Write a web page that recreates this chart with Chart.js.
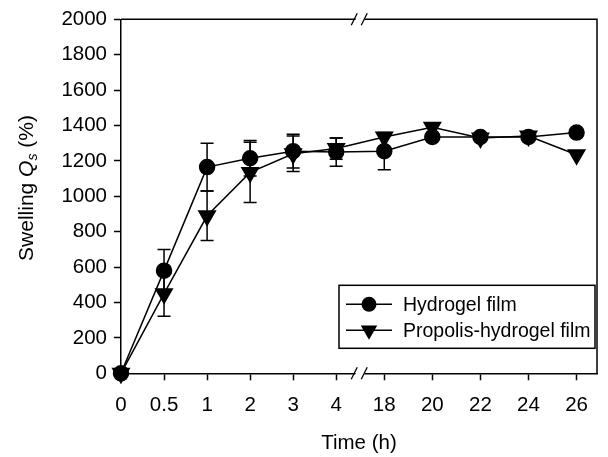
<!DOCTYPE html>
<html>
<head>
<meta charset="utf-8">
<script src="https://cdn.jsdelivr.net/npm/chart.js@4"></script>
<style>
  html, body { margin: 0; padding: 0; background: #fff; }
  #wrap { width: 608px; height: 457px; }
</style>
</head>
<body>
<div id="wrap"><canvas id="swellChart" width="608" height="457"></canvas></div>
<script>
/* ── Data ─────────────────────────────────── */
const timeLabels   = ['0', '0.5', '1', '2', '3', '4', '18', '20', '22', '24', '26'];
const hydrogel     = [0, 580, 1165, 1215, 1255, 1250, 1255, 1335, 1335, 1335, 1360];
const hydrogelErr  = [0, 120, 135, 100, 95, 80, 105, 0, 0, 0, 0];
const propolis     = [0, 450, 890, 1135, 1240, 1270, 1335, 1390, 1330, 1340, 1235];
const propolisErr  = [0, 127, 140, 170, 100, 60, 0, 0, 0, 0, 0];
const yTicks       = [0, 200, 400, 600, 800, 1000, 1200, 1400, 1600, 1800, 2000];

const FONT = "'Liberation Sans', Arial, sans-serif";
Chart.defaults.font.family = FONT;
Chart.defaults.font.size = 20.5;
Chart.defaults.color = '#000';

// broken axis: slots after the break are a little wider
const BREAK_AFTER = 5, WIDE = 1.117;
function slotX(i) { return i <= BREAK_AFTER ? i : BREAK_AFTER + (i - BREAK_AFTER) * WIDE; }

/* ── Plugins ──────────────────────────────── */
const errorBars = {
  id: 'errorBars',
  beforeDatasetsDraw(chart) {
    const { ctx, scales: { y } } = chart;
    ctx.save();
    ctx.strokeStyle = '#000';
    ctx.lineWidth = 1.5;
    chart.data.datasets.forEach((ds, i) => {
      chart.getDatasetMeta(i).data.forEach((pt, j) => {
        const e = ds.err[j];
        if (!e) return;
        const top = y.getPixelForValue(ds.data[j].y + e);
        const bot = y.getPixelForValue(ds.data[j].y - e);
        ctx.beginPath();
        ctx.moveTo(pt.x, top); ctx.lineTo(pt.x, bot);
        ctx.moveTo(pt.x - 6.5, top); ctx.lineTo(pt.x + 6.5, top);
        ctx.moveTo(pt.x - 6.5, bot); ctx.lineTo(pt.x + 6.5, bot);
        ctx.stroke();
      });
    });
    ctx.restore();
  }
};

function drawBreak(ctx, cx, cy) {
  ctx.fillStyle = '#fff';
  ctx.beginPath();
  ctx.moveTo(cx - 7, cy + 6); ctx.lineTo(cx - 2, cy - 6);
  ctx.lineTo(cx + 7, cy - 6); ctx.lineTo(cx + 2, cy + 6);
  ctx.closePath();
  ctx.fill();
  ctx.lineWidth = 1.3;
  ctx.beginPath();
  ctx.moveTo(cx - 9, cy + 6); ctx.lineTo(cx - 3, cy - 6);
  ctx.moveTo(cx + 1, cy + 6); ctx.lineTo(cx + 7, cy - 6);
  ctx.stroke();
}

const frame = {
  id: 'frame',
  afterDraw(chart) {
    const { ctx, chartArea: a, scales: { x } } = chart;
    ctx.save();
    ctx.strokeStyle = '#000';
    ctx.lineWidth = 1.5;
    ctx.beginPath();
    ctx.moveTo(a.left, a.top); ctx.lineTo(a.right, a.top); ctx.lineTo(a.right, a.bottom);
    ctx.stroke();
    const bx = x.getPixelForValue((slotX(BREAK_AFTER) + slotX(BREAK_AFTER + 1)) / 2);
    drawBreak(ctx, bx, a.top);
    drawBreak(ctx, bx, a.bottom);

    // y axis title: Swelling Q_s (%)
    ctx.translate(27, 188);
    ctx.rotate(-Math.PI / 2);
    ctx.fillStyle = '#000';
    ctx.textBaseline = 'middle';
    const parts = [
      { t: 'Swelling ', f: `21px ${FONT}`, dy: 0 },
      { t: 'Q', f: `italic 21px ${FONT}`, dy: 0 },
      { t: 's', f: `italic 14px ${FONT}`, dy: 6 },
      { t: ' (%)', f: `21px ${FONT}`, dy: 0 },
    ];
    let total = 0;
    parts.forEach(p => { ctx.font = p.f; p.w = ctx.measureText(p.t).width; total += p.w; });
    let px = -total / 2;
    parts.forEach(p => { ctx.font = p.f; ctx.fillText(p.t, px, p.dy); px += p.w; });
    ctx.restore();

    // legend box
    const lx = a.right - 258, ly = a.bottom - 88;
    ctx.save();
    ctx.strokeStyle = '#000';
    ctx.fillStyle = '#fff';
    ctx.lineWidth = 1.5;
    ctx.fillRect(lx, ly, 256, 63);
    ctx.strokeRect(lx, ly, 256, 63);
    chart.data.datasets.forEach((ds, i) => {
      const yy = ly + 19 + i * 26;
      ctx.beginPath();
      ctx.moveTo(lx + 7, yy); ctx.lineTo(lx + 53, yy);
      ctx.stroke();
      ctx.fillStyle = '#000';
      Chart.helpers.drawPoint(ctx, { pointStyle: ds.pointStyle, rotation: ds.rotation || 0, radius: ds.pointRadius }, lx + 30, yy);
      ctx.font = `19.5px ${FONT}`;
      ctx.textBaseline = 'middle';
      ctx.fillText(ds.label, lx + 64, yy + 1);
    });
    ctx.restore();
  }
};

/* ── Chart ────────────────────────────────── */
const ctx = document.getElementById('swellChart');
new Chart(ctx, {
  type: 'line',
  data: {
    datasets: [
      {
        label: 'Hydrogel film',
        data: hydrogel.map((v, i) => ({ x: slotX(i), y: v })),
        err: hydrogelErr,
        borderColor: '#000',
        borderWidth: 1.5,
        pointStyle: 'circle',
        pointRadius: 7.5,
        pointBackgroundColor: '#000',
        pointBorderColor: '#000',
        clip: false,
      },
      {
        label: 'Propolis-hydrogel film',
        data: propolis.map((v, i) => ({ x: slotX(i), y: v })),
        err: propolisErr,
        borderColor: '#000',
        borderWidth: 1.5,
        pointStyle: 'triangle',
        rotation: 180,
        pointRadius: 9.5,
        pointBackgroundColor: '#000',
        pointBorderColor: '#000',
        clip: false,
      },
    ],
  },
  options: {
    responsive: false,
    animation: false,
    layout: { padding: { top: 18.5, right: 8, left: 0, bottom: 0 } },
    plugins: { legend: { display: false }, tooltip: { enabled: false } },
    scales: {
      x: {
        type: 'linear',
        min: 0,
        max: 11.06,
        afterFit(s) { s.height = 83.7; },
        afterBuildTicks(s) { s.ticks = timeLabels.map((_, i) => ({ value: slotX(i) })); },
        ticks: { callback: (v, i) => timeLabels[i], padding: 13, maxRotation: 0, autoSkip: false },
        grid: { drawOnChartArea: false, tickLength: 7, tickColor: '#000', tickWidth: 1.5 },
        border: { color: '#000', width: 1.5 },
        title: { display: true, text: 'Time (h)', padding: { top: 0, bottom: 1 } },
      },
      y: {
        min: 0,
        max: 2000,
        afterFit(s) { s.width = 121; },
        afterBuildTicks(s) { s.ticks = yTicks.map(v => ({ value: v })); },
        ticks: { padding: 7, callback: v => String(v) },
        grid: { drawOnChartArea: false, tickLength: 7, tickColor: '#000', tickWidth: 1.5 },
        border: { color: '#000', width: 1.5 },
      },
    },
  },
  plugins: [errorBars, frame],
});
</script>
</body>
</html>
